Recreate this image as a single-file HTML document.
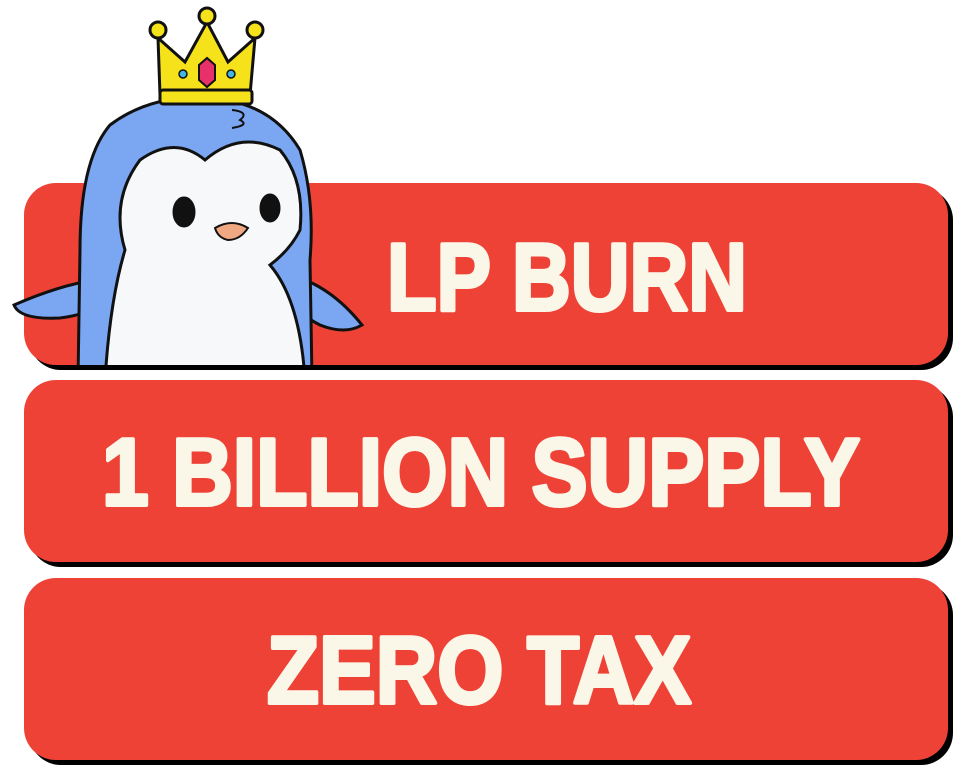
<!DOCTYPE html>
<html><head><meta charset="utf-8"><style>
html,body{margin:0;padding:0;background:#fff;width:956px;height:768px;overflow:hidden}
svg{display:block}
text{font-family:"Liberation Sans",sans-serif;font-weight:bold;fill:#FBF7E8;stroke:#FBF7E8;stroke-width:4;stroke-linejoin:round}
</style></head><body>
<svg width="956" height="768" viewBox="0 0 956 768">
  <g>
    <rect x="29" y="188" width="924" height="182" rx="32" fill="#000"/>
    <rect x="24" y="183" width="924" height="182" rx="32" fill="#EF4237"/>
  </g>
  <g>
    <rect x="29" y="385" width="924" height="182" rx="32" fill="#000"/>
    <rect x="24" y="380" width="924" height="182" rx="32" fill="#EF4237"/>
  </g>
  <g>
    <rect x="29" y="583" width="924" height="182" rx="32" fill="#000"/>
    <rect x="24" y="578" width="924" height="182" rx="32" fill="#EF4237"/>
  </g>

  <g>
    <clipPath id="c"><rect x="0" y="0" width="956" height="365"/></clipPath>
    <g clip-path="url(#c)" stroke="#111" stroke-width="3">
      <path d="M95 280 Q60 285 14 305 Q20 320 60 318 Q85 315 100 305 Z" fill="#7BA6F2"/>
      <path d="M290 275 Q330 285 362 325 Q345 335 320 325 Q300 315 290 300 Z" fill="#7BA6F2"/>
      <path d="M78 380 L80 250 Q80 160 110 125 Q150 95 205 98 Q270 100 300 150 Q315 200 310 260 L312 380 Z" fill="#7BA6F2"/>
      <path d="M105 380 Q110 300 125 250 Q110 200 140 160 Q175 135 205 160 Q240 130 280 150 Q305 180 300 230 Q290 250 270 265 Q300 300 305 380 Z" fill="#F6F8FA"/>
      <ellipse cx="184" cy="212" rx="10" ry="14" fill="#111"/>
      <ellipse cx="270" cy="208" rx="9" ry="13" fill="#111"/>
      <path d="M215 228 Q232 218 248 228 Q240 240 228 240 Q218 238 215 228 Z" fill="#F0A882" stroke-width="2"/>
      <path d="M232 110 Q250 112 240 120 Q250 125 232 128" fill="none" stroke-width="2"/>
    </g>
    <g stroke="#111" stroke-width="3">
      <path d="M160 95 L158 38 L185 62 L207 22 L228 62 L255 38 L250 95 Z" fill="#F5E21B"/>
      <rect x="160" y="90" width="92" height="14" rx="3" fill="#F5E21B"/>
      <circle cx="158" cy="30" r="8" fill="#F5E21B"/>
      <circle cx="207" cy="16" r="8" fill="#F5E21B"/>
      <circle cx="255" cy="30" r="8" fill="#F5E21B"/>
      <path d="M199 65 L207 58 L215 65 L215 80 L207 87 L199 80 Z" fill="#E8306B" stroke-width="2"/>
      <circle cx="183" cy="74" r="4" fill="#3FB6E6" stroke-width="1.5"/>
      <circle cx="231" cy="74" r="4" fill="#3FB6E6" stroke-width="1.5"/>
    </g>
  </g>

  <text x="387" y="310" font-size="96" textLength="360" lengthAdjust="spacingAndGlyphs">LP BURN</text>
  <text x="102" y="505" font-size="96" textLength="758" lengthAdjust="spacingAndGlyphs">1 BILLION SUPPLY</text>
  <text x="267" y="703" font-size="96" textLength="424" lengthAdjust="spacingAndGlyphs">ZERO TAX</text>
</svg>
</body></html>
